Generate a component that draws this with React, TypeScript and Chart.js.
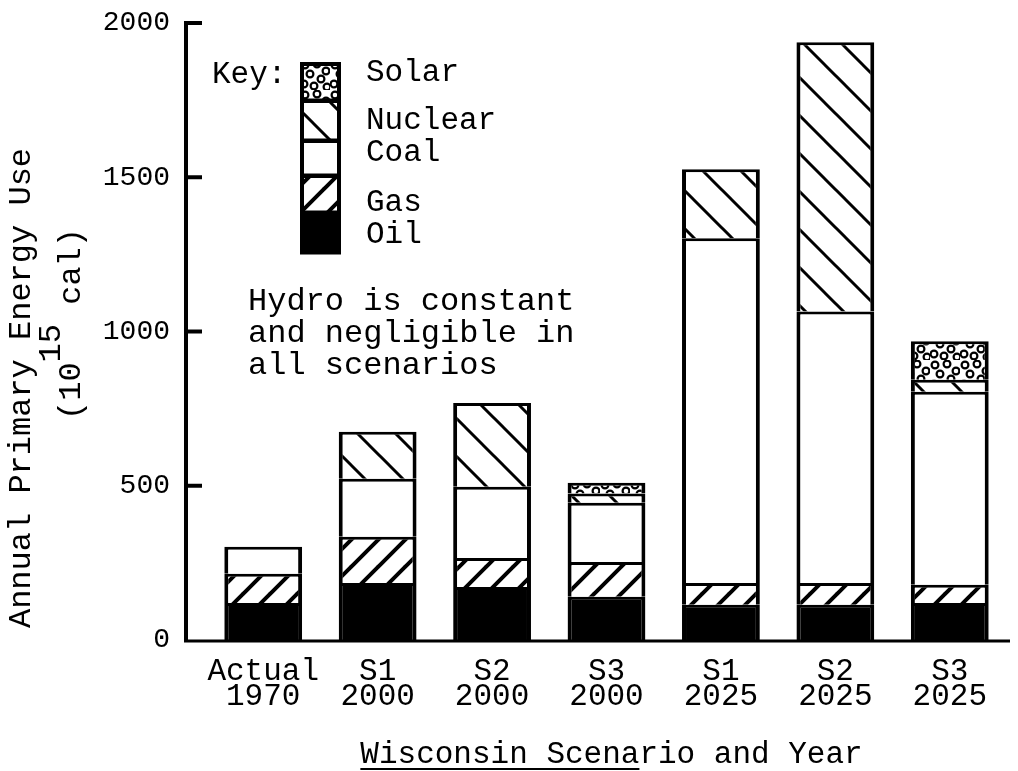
import React, { useEffect, useRef } from 'react';
import { Chart, registerables } from 'chart.js';

Chart.register(...registerables);

const MONO = "'Liberation Mono', 'DejaVu Sans Mono', monospace";

const categories = [
  ['Actual', '1970'],
  ['S1', '2000'],
  ['S2', '2000'],
  ['S3', '2000'],
  ['S1', '2025'],
  ['S2', '2025'],
  ['S3', '2025'],
];
const oil = [120, 185, 172, 140, 114, 114, 120];
const gas = [95, 150, 94, 113, 71, 71, 59];
const coal = [87, 188, 231, 192, 1117, 880, 626];
const nuclear = [null, 152, 271, 30, 224, 873, 39];
const solar = [null, null, null, 35, null, null, 124];
const yTickValues = [0, 500, 1000, 1500, 2000];
const legendLabels = ['Solar', 'Nuclear', 'Coal', 'Gas', 'Oil'];
const noteLines = ['Hydro is constant', 'and negligible in', 'all scenarios'];
const yTitle1 = 'Annual Primary Energy Use';
const yTitle2a = '(10';
const yTitle2sup = '15';
const yTitle2b = ' cal)';
const xTitle = 'Wisconsin Scenario and Year';
const xTitleUnderlined = 'Wisconsin Scena';
const keyLabel = 'Key:';

function hatch(dir: 'fwd' | 'back', s: number, lw: number): CanvasPattern {
  const c = document.createElement('canvas');
  c.width = s;
  c.height = s;
  const g = c.getContext('2d')!;
  g.fillStyle = '#fff';
  g.fillRect(0, 0, s, s);
  g.strokeStyle = '#000';
  g.lineWidth = lw;
  g.lineCap = 'square';
  for (let k = -1; k <= 1; k++) {
    g.beginPath();
    if (dir === 'fwd') {
      g.moveTo(k * s, s);
      g.lineTo(k * s + s, 0);
    } else {
      g.moveTo(k * s, 0);
      g.lineTo(k * s + s, s);
    }
    g.stroke();
  }
  return g.createPattern(c, 'repeat')!;
}

function rings(): CanvasPattern {
  const s = 30;
  const c = document.createElement('canvas');
  c.width = s;
  c.height = s;
  const g = c.getContext('2d')!;
  g.fillStyle = '#fff';
  g.fillRect(0, 0, s, s);
  g.strokeStyle = '#000';
  g.lineWidth = 2.2;
  const pts = [
    [5, 5], [17, 4], [26, 11], [10, 14], [21, 19], [4, 24], [14, 26], [27, 27],
  ];
  for (const [x, y] of pts) {
    g.beginPath();
    g.arc(x, y, 3.4, 0, Math.PI * 2);
    g.stroke();
  }
  return g.createPattern(c, 'repeat')!;
}

export default function App() {
  const ref = useRef<HTMLCanvasElement | null>(null);

  useEffect(() => {
    document.body.style.margin = '0';
    const canvas = ref.current!;
    const gasPat = hatch('fwd', 27, 4);
    const nucPat = hatch('back', 38, 3);
    const solPat = rings();
    const fills = [solPat, nucPat, '#fff', gasPat, '#000'];

    const border = { top: 3, left: 4, right: 4, bottom: 0 };
    const ds = (label: string, data: (number | null)[], bg: any) => ({
      label,
      data,
      backgroundColor: bg,
      borderColor: '#000',
      borderWidth: border,
      borderSkipped: false as const,
      barPercentage: 0.68,
      categoryPercentage: 1,
    });

    const decor = {
      id: 'decor',
      afterDraw(chart: any) {
        const ctx: CanvasRenderingContext2D = chart.ctx;
        const ca = chart.chartArea;
        const ys = chart.scales.y;
        const axisX = ca.left - 20;
        const y0 = ys.getPixelForValue(0);
        const yTop = ys.getPixelForValue(2000);
        ctx.save();
        ctx.strokeStyle = '#000';
        ctx.fillStyle = '#000';
        ctx.lineCap = 'butt';
        // y axis line
        ctx.lineWidth = 4;
        ctx.beginPath();
        ctx.moveTo(axisX, yTop - 2);
        ctx.lineTo(axisX, y0 + 2);
        ctx.stroke();
        // x axis line
        ctx.lineWidth = 3;
        ctx.beginPath();
        ctx.moveTo(axisX - 2, y0 + 1);
        ctx.lineTo(ca.right + 3, y0 + 1);
        ctx.stroke();
        // tick marks
        ctx.lineWidth = 4;
        for (const v of yTickValues) {
          if (v === 0) continue;
          const y = ys.getPixelForValue(v);
          ctx.beginPath();
          ctx.moveTo(axisX - 2, y);
          ctx.lineTo(axisX + 16, y);
          ctx.stroke();
        }

        // Legend (key)
        ctx.font = `31px ${MONO}`;
        ctx.textBaseline = 'middle';
        ctx.textAlign = 'left';
        ctx.fillText(keyLabel, 212, 75);
        const sx = 300;
        const sw = 41;
        const edges = [62, 100, 140, 175, 212, 253];
        const labelY = [73, 121, 153, 203, 235];
        for (let i = 0; i < 5; i++) {
          const t = edges[i];
          const b = edges[i + 1];
          ctx.fillStyle = fills[i] as any;
          ctx.fillRect(sx, t, sw, b - t);
          ctx.lineWidth = 3;
          ctx.strokeStyle = '#000';
          ctx.strokeRect(sx + 1.5, t + 1.5, sw - 3, b - t - 3 + 1.5);
          ctx.fillStyle = '#000';
          ctx.fillText(legendLabels[i], 366, labelY[i]);
        }
        ctx.lineWidth = 4;
        ctx.strokeRect(sx + 2, edges[0] + 2, sw - 4, edges[5] - edges[0] - 4);

        // note
        ctx.font = `32px ${MONO}`;
        ctx.textBaseline = 'alphabetic';
        noteLines.forEach((l, i) => ctx.fillText(l, 248, 310 + i * 32));

        // y title
        ctx.save();
        ctx.translate(30, 388);
        ctx.rotate(-Math.PI / 2);
        ctx.textAlign = 'center';
        ctx.fillText(yTitle1, 0, 0);
        ctx.restore();
        ctx.save();
        ctx.translate(80, 420);
        ctx.rotate(-Math.PI / 2);
        ctx.textAlign = 'left';
        const w1 = ctx.measureText(yTitle2a).width;
        ctx.fillText(yTitle2a, 0, 0);
        ctx.fillText(yTitle2sup, w1, -20);
        const w2 = ctx.measureText(yTitle2sup).width;
        ctx.fillText(yTitle2b, w1 + w2, 0);
        ctx.restore();

        // x title
        ctx.font = `31px ${MONO}`;
        ctx.textAlign = 'left';
        ctx.textBaseline = 'alphabetic';
        const tw = ctx.measureText(xTitle).width;
        const tx = (ca.left + ca.right) / 2 - tw / 2 + 5;
        ctx.fillText(xTitle, tx, 763);
        const uw = ctx.measureText(xTitleUnderlined).width;
        ctx.lineWidth = 2;
        ctx.beginPath();
        ctx.moveTo(tx, 769);
        ctx.lineTo(tx + uw, 769);
        ctx.stroke();
        ctx.restore();
      },
    };

    const chart = new Chart(canvas, {
      type: 'bar',
      data: {
        labels: categories,
        datasets: [
          ds('Oil', oil, '#000'),
          ds('Gas', gas, gasPat),
          ds('Coal', coal, '#fff'),
          ds('Nuclear', nuclear, nucPat),
          ds('Solar', solar, solPat),
        ],
      },
      options: {
        animation: false,
        responsive: false,
        devicePixelRatio: 1,
        layout: { padding: { top: 23, right: 11, left: 0, bottom: 0 } },
        plugins: { legend: { display: false }, tooltip: { enabled: false } },
        scales: {
          x: {
            stacked: true,
            offset: true,
            grid: { display: false, drawTicks: false },
            border: { display: false },
            ticks: {
              color: '#000',
              font: { family: MONO, size: 31, lineHeight: 0.82 },
              padding: 19,
              maxRotation: 0,
              autoSkip: false,
            },
            afterFit: (s: any) => {
              s.height = 131;
            },
          },
          y: {
            stacked: true,
            min: 0,
            max: 2000,
            grid: { display: false, drawTicks: true, tickLength: 36 },
            border: { display: false },
            ticks: {
              stepSize: 500,
              color: '#000',
              font: { family: MONO, size: 28, lineHeight: 1 },
              padding: 0,
              callback: (v: any) => String(v),
            },
            afterFit: (s: any) => {
              s.width = 206;
            },
          },
        },
      },
      plugins: [decor],
    });
    return () => chart.destroy();
  }, []);

  return <canvas ref={ref} width={1018} height={771} style={{ display: 'block' }} />;
}
